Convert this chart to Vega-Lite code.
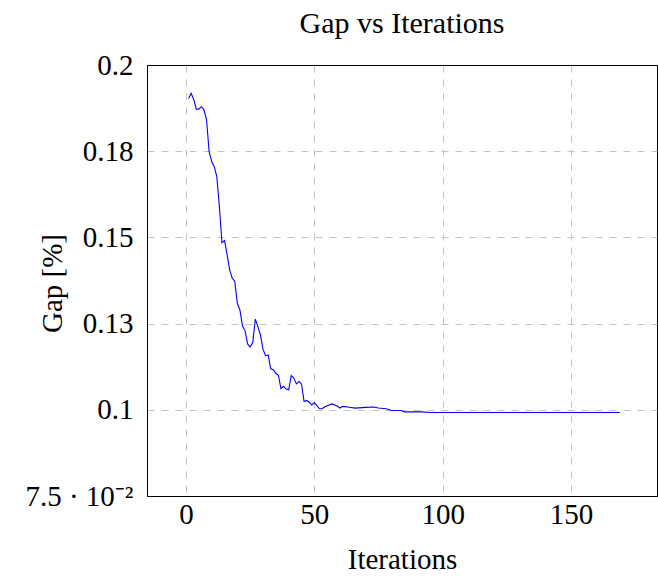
{
  "$schema": "https://vega.github.io/schema/vega-lite/v6.json",
  "width": 510,
  "height": 431,
  "autosize": "none",
  "padding": {"left": 147, "top": 65, "right": 1, "bottom": 80},
  "background": "white",
  "title": {"text": "Gap vs Iterations", "font": "Liberation Serif", "fontSize": 30, "fontWeight": "normal", "color": "black", "offset": 12, "anchor": "middle"},
  "config": {"view": {"stroke": "black", "strokeWidth": 1}},
  "data": {"values": [
    {"it": 1, "gap": 0.1903}, {"it": 2, "gap": 0.1918}, {"it": 3, "gap": 0.1900}, {"it": 4, "gap": 0.1872},
    {"it": 5, "gap": 0.1872}, {"it": 6, "gap": 0.1879}, {"it": 7, "gap": 0.1870}, {"it": 8, "gap": 0.1841},
    {"it": 9, "gap": 0.1749}, {"it": 10, "gap": 0.1720}, {"it": 11, "gap": 0.1705}, {"it": 12, "gap": 0.1676},
    {"it": 13, "gap": 0.1589}, {"it": 14, "gap": 0.1485}, {"it": 15, "gap": 0.1491}, {"it": 16, "gap": 0.1450},
    {"it": 17, "gap": 0.1406}, {"it": 18, "gap": 0.1382}, {"it": 19, "gap": 0.1372}, {"it": 20, "gap": 0.1309},
    {"it": 21, "gap": 0.1290}, {"it": 22, "gap": 0.1243}, {"it": 23, "gap": 0.1229}, {"it": 24, "gap": 0.1191},
    {"it": 25, "gap": 0.1182}, {"it": 26, "gap": 0.1195}, {"it": 27, "gap": 0.1263}, {"it": 28, "gap": 0.1241},
    {"it": 29, "gap": 0.1217}, {"it": 30, "gap": 0.1175}, {"it": 31, "gap": 0.1157}, {"it": 32, "gap": 0.1159},
    {"it": 33, "gap": 0.1119}, {"it": 34, "gap": 0.1116}, {"it": 35, "gap": 0.1106}, {"it": 36, "gap": 0.1100},
    {"it": 37, "gap": 0.1061}, {"it": 38, "gap": 0.1068}, {"it": 39, "gap": 0.1060}, {"it": 40, "gap": 0.1058},
    {"it": 41, "gap": 0.1099}, {"it": 42, "gap": 0.1092}, {"it": 43, "gap": 0.1075}, {"it": 44, "gap": 0.1082},
    {"it": 45, "gap": 0.1075}, {"it": 46, "gap": 0.1024}, {"it": 47, "gap": 0.1027}, {"it": 48, "gap": 0.1022},
    {"it": 49, "gap": 0.1014}, {"it": 50, "gap": 0.1021}, {"it": 51, "gap": 0.1012}, {"it": 52, "gap": 0.1003},
    {"it": 53, "gap": 0.1003}, {"it": 54, "gap": 0.1008}, {"it": 55, "gap": 0.1012}, {"it": 57, "gap": 0.1017},
    {"it": 59, "gap": 0.1010}, {"it": 60, "gap": 0.1005}, {"it": 61, "gap": 0.1010}, {"it": 63, "gap": 0.1008},
    {"it": 66, "gap": 0.1005}, {"it": 70, "gap": 0.1007}, {"it": 73, "gap": 0.1008}, {"it": 75, "gap": 0.1005},
    {"it": 78, "gap": 0.1003}, {"it": 80, "gap": 0.0998}, {"it": 84, "gap": 0.0998}, {"it": 85, "gap": 0.0994},
    {"it": 92, "gap": 0.0994}, {"it": 95, "gap": 0.0992}, {"it": 100, "gap": 0.0992}, {"it": 130, "gap": 0.0992},
    {"it": 169, "gap": 0.0992}
  ]},
  "mark": {"type": "line", "color": "#0000ff", "strokeWidth": 1.1, "clip": true},
  "encoding": {
    "x": {
      "field": "it", "type": "quantitative",
      "scale": {"domain": [-15.2, 183.5], "nice": false, "zero": false},
      "axis": {
        "title": "Iterations", "values": [0, 50, 100, 150],
        "titleFont": "Liberation Serif", "titleFontSize": 29, "titleFontWeight": "normal", "titleColor": "black",
        "titleY": 72, "titleBaseline": "alphabetic",
        "labelFont": "Liberation Serif", "labelFontSize": 29, "labelColor": "black", "labelPadding": 4,
        "domainColor": "black", "ticks": false,
        "grid": true, "gridColor": "#c4c4c4", "gridDash": [7, 7], "gridWidth": 1
      }
    },
    "y": {
      "field": "gap", "type": "quantitative",
      "scale": {"domain": [0.075, 0.2], "nice": false, "zero": false},
      "axis": {
        "title": "Gap [%]", "values": [0.075, 0.1, 0.125, 0.15, 0.175, 0.2],
        "labelExpr": "datum.value < 0.08 ? '7.5 · 10⁻²' : datum.value < 0.11 ? '0.1' : datum.value < 0.13 ? '0.13' : datum.value < 0.16 ? '0.15' : datum.value < 0.19 ? '0.18' : '0.2'",
        "titleFont": "Liberation Serif", "titleFontSize": 29, "titleFontWeight": "normal", "titleColor": "black",
        "titleX": -86, "titleY": 218, "titleAngle": 270, "titleAlign": "center", "titleBaseline": "alphabetic",
        "labelFont": "Liberation Serif", "labelFontSize": 29, "labelColor": "black", "labelPadding": 14,
        "domainColor": "black", "ticks": false,
        "grid": true,
        "gridColor": {"condition": {"test": "datum.value >= 0.2 || datum.value <= 0.075", "value": "black"}, "value": "#c4c4c4"},
        "gridDash": {"condition": {"test": "datum.value >= 0.2 || datum.value <= 0.075", "value": []}, "value": [7, 7]},
        "gridWidth": 1
      }
    }
  }
}
